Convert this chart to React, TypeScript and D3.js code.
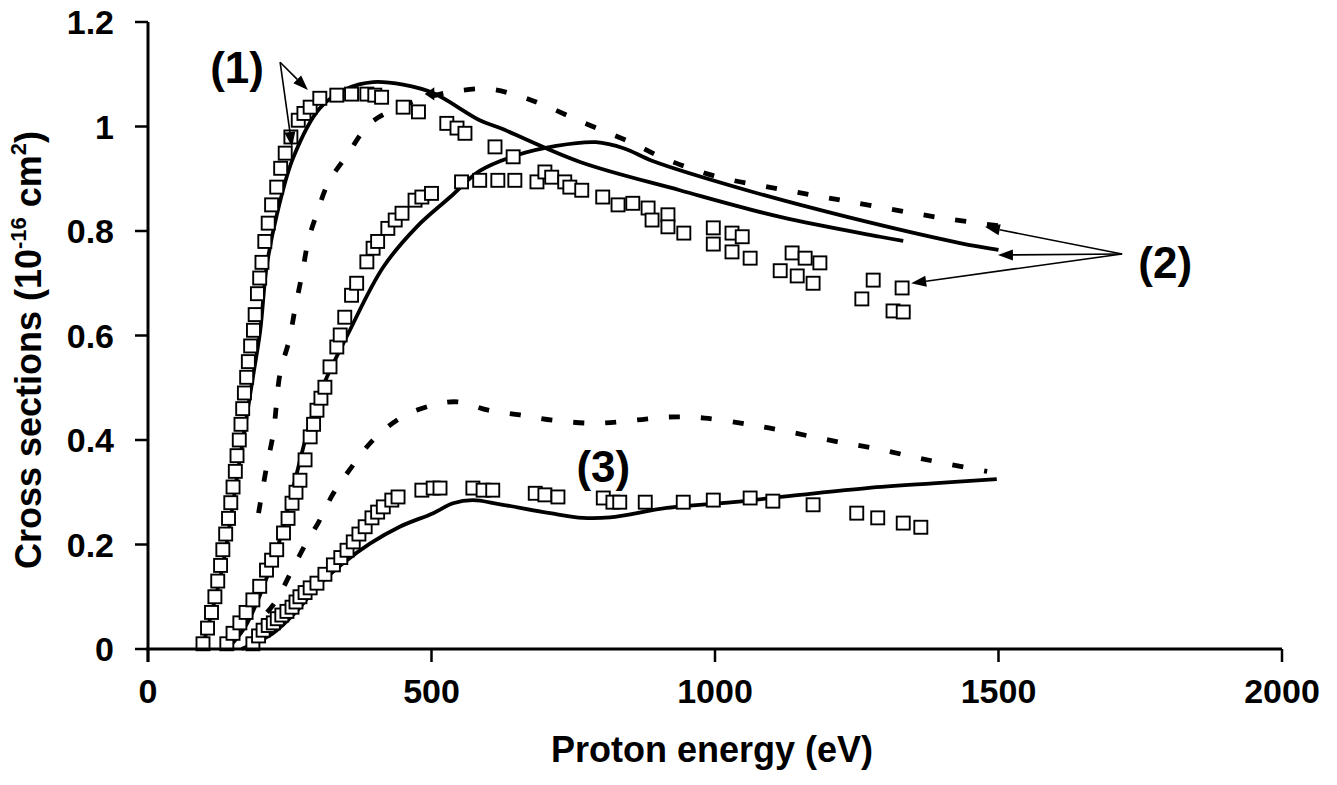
import React from "react";
import * as d3 from "d3";

const W = 1337;
const H = 785;
const FONT = "'Liberation Sans', Arial, Helvetica, sans-serif";

const xTicks = [0, 500, 1000, 1500, 2000];
const yTicks = [0, 0.2, 0.4, 0.6, 0.8, 1, 1.2];

// measured points, (energy eV, cross section)
const squares1 = [
  [97, 0.01], [105, 0.04], [112, 0.07], [118, 0.1], [123, 0.13], [128, 0.16], [132, 0.19],
  [137, 0.22], [142, 0.25], [146, 0.28], [150, 0.31], [154, 0.34], [157, 0.37], [161, 0.4],
  [164, 0.43], [167, 0.46], [170, 0.49], [174, 0.52], [177, 0.55], [181, 0.58], [186, 0.61],
  [189, 0.64], [193, 0.68], [197, 0.71], [201, 0.74], [206, 0.78], [212, 0.815], [218, 0.85],
  [227, 0.884], [234, 0.92], [242, 0.949], [252, 0.98], [265, 1.012], [275, 1.025], [286, 1.037],
  [303, 1.054], [333, 1.06], [359, 1.062], [386, 1.062], [400, 1.06], [412, 1.056], [450, 1.037],
  [477, 1.028], [527, 1.006], [545, 0.997], [559, 0.987], [612, 0.961], [644, 0.942],
];

const squares2 = [
  [139, 0.01], [150, 0.03], [162, 0.05], [173, 0.07], [185, 0.094], [197, 0.12], [209, 0.151],
  [218, 0.17], [227, 0.19], [239, 0.222], [247, 0.25], [254, 0.279], [261, 0.3], [268, 0.323],
  [277, 0.362], [286, 0.406], [292, 0.43], [298, 0.457], [305, 0.48], [312, 0.501], [321, 0.54],
  [333, 0.578], [339, 0.601], [347, 0.635], [359, 0.677], [368, 0.7], [386, 0.741], [397, 0.767],
  [405, 0.78], [423, 0.805], [436, 0.821], [448, 0.834], [471, 0.859], [483, 0.865], [500, 0.872],
  [553, 0.894], [585, 0.897], [617, 0.897], [647, 0.897], [686, 0.894], [700, 0.913], [712, 0.903],
  [735, 0.894], [744, 0.884], [765, 0.878], [802, 0.865], [829, 0.85], [855, 0.853], [882, 0.844],
  [889, 0.821], [917, 0.831], [917, 0.808], [945, 0.796], [997, 0.806], [997, 0.775], [1030, 0.796],
  [1030, 0.76], [1048, 0.789], [1062, 0.748], [1115, 0.724], [1136, 0.758], [1145, 0.714],
  [1159, 0.748], [1173, 0.7], [1185, 0.739], [1259, 0.67], [1279, 0.706], [1314, 0.647],
  [1330, 0.691], [1332, 0.645],
];

const squares3 = [
  [185, 0.01], [195, 0.025], [203, 0.036], [212, 0.045], [221, 0.05], [228, 0.058], [236, 0.065],
  [245, 0.072], [254, 0.08], [261, 0.09], [268, 0.1], [277, 0.108], [286, 0.117], [298, 0.126],
  [312, 0.143], [327, 0.161], [340, 0.175], [351, 0.189], [362, 0.205], [372, 0.22], [383, 0.234],
  [395, 0.251], [405, 0.262], [415, 0.272], [430, 0.285], [441, 0.291], [483, 0.304], [503, 0.308],
  [515, 0.308], [573, 0.308], [591, 0.304], [608, 0.304], [683, 0.298], [700, 0.295], [723, 0.291],
  [803, 0.289], [820, 0.281], [832, 0.281], [877, 0.281], [944, 0.281], [997, 0.285], [1062, 0.289],
  [1102, 0.283], [1173, 0.276], [1250, 0.26], [1287, 0.251], [1332, 0.241], [1363, 0.233],
];

// calculated curves
const solid1 = [
  [95, 0], [130, 0.15], [160, 0.35], [185, 0.52], [198, 0.61], [209, 0.73], [227, 0.83],
  [256, 0.94], [303, 1.035], [350, 1.072], [397, 1.085], [450, 1.08], [503, 1.064], [585, 1.012],
  [621, 0.997], [762, 0.932], [938, 0.878], [1115, 0.827], [1291, 0.789], [1332, 0.781],
];

const solid2 = [
  [140, 0], [170, 0.04], [200, 0.11], [230, 0.2], [254, 0.3], [298, 0.475], [356, 0.61],
  [415, 0.731], [474, 0.808], [533, 0.865], [585, 0.915], [650, 0.945], [720, 0.963], [790, 0.97],
  [840, 0.958], [890, 0.934], [1056, 0.878], [1233, 0.827], [1432, 0.777], [1500, 0.764],
];

const dashed2 = [
  [195, 0.26], [209, 0.348], [221, 0.413], [233, 0.528], [249, 0.591], [259, 0.649], [272, 0.719],
  [283, 0.783], [298, 0.834], [318, 0.892], [351, 0.945], [392, 1.006], [450, 1.04], [500, 1.058],
  [545, 1.068], [600, 1.072], [650, 1.06], [700, 1.04], [767, 1.008], [855, 0.968], [908, 0.94],
  [1000, 0.905], [1115, 0.88], [1233, 0.857], [1400, 0.825], [1500, 0.81],
];

const solid3 = [
  [165, 0], [220, 0.03], [260, 0.07], [298, 0.119], [344, 0.164], [392, 0.202], [444, 0.234],
  [503, 0.26], [538, 0.279], [573, 0.285], [621, 0.277], [709, 0.26], [767, 0.251], [815, 0.252],
  [915, 0.27], [1032, 0.281], [1150, 0.295], [1268, 0.308], [1384, 0.317], [1497, 0.325],
];

const dashed3 = [
  [210, 0.07], [227, 0.094], [254, 0.151], [280, 0.205], [300, 0.241], [327, 0.298], [359, 0.348],
  [397, 0.4], [448, 0.444], [503, 0.467], [546, 0.473], [600, 0.457], [656, 0.448], [714, 0.438],
  [788, 0.432], [859, 0.438], [917, 0.444], [982, 0.442], [1058, 0.43], [1115, 0.419],
  [1173, 0.406], [1229, 0.394], [1287, 0.383], [1344, 0.369], [1402, 0.356], [1480, 0.34],
];

// annotations: label position and arrows, in data units
const label1 = { text: "(1)", x: 157, y: 1.083 };
const label2 = { text: "(2)", x: 1794, y: 0.71 };
const label3 = { text: "(3)", x: 803, y: 0.32 };
const arrows1 = [
  { from: [233, 1.123], to: [282, 1.07] },
  { from: [233, 1.123], to: [254, 0.961] },
];
const arrows2 = [
  { from: [1718, 0.756], to: [1476, 0.808] },
  { from: [1718, 0.756], to: [1499, 0.754] },
  { from: [1718, 0.756], to: [1346, 0.7] },
];

const x = d3.scaleLinear().domain([0, 2000]).range([148, 1282]);
const y = d3.scaleLinear().domain([0, 1.2]).range([649, 22]);

const line = d3
  .line<number[]>()
  .x((d) => x(d[0]))
  .y((d) => y(d[1]))
  .curve(d3.curveCatmullRom.alpha(0.5));

function Squares({ data }: { data: number[][] }) {
  const s = 13;
  return (
    <g>
      {data.map((d, i) => (
        <rect key={i} x={x(d[0]) - s / 2} y={y(d[1]) - s / 2} width={s} height={s}
          fill="#fff" stroke="#000" strokeWidth={1.9} />
      ))}
    </g>
  );
}

function Arrow({ from, to }: { from: number[]; to: number[] }) {
  const x1 = x(from[0]), y1 = y(from[1]), x2 = x(to[0]), y2 = y(to[1]);
  const ang = Math.atan2(y2 - y1, x2 - x1);
  const len = 15, half = 5.5;
  const bx = x2 - len * Math.cos(ang), by = y2 - len * Math.sin(ang);
  const pts = [
    [x2, y2],
    [bx + half * Math.sin(ang), by - half * Math.cos(ang)],
    [bx - half * Math.sin(ang), by + half * Math.cos(ang)],
  ];
  return (
    <g>
      <line x1={x1} y1={y1} x2={bx} y2={by} stroke="#000" strokeWidth={1.6} />
      <polygon points={pts.map((p) => p.join(",")).join(" ")} fill="#000" />
    </g>
  );
}

export default function App() {
  const tickStyle = { fontFamily: FONT, fontWeight: 700, fontSize: 34 };
  return (
    <svg width={W} height={H} style={{ position: "absolute", left: 0, top: 0, background: "#fff" }}>
      {/* curves */}
      <g fill="none" stroke="#000" strokeWidth={3.8} strokeLinejoin="round">
        <path d={line(solid1) || ""} />
        <path d={line(solid2) || ""} />
        <path d={line(solid3) || ""} />
        <path d={line(dashed2) || ""} strokeDasharray="11 21" strokeWidth={4.8} />
        <path d={line(dashed3) || ""} strokeDasharray="11 21" strokeWidth={4.8} />
      </g>

      {/* small arrowhead on the top curve */}
      <polygon
        points={`${x(488)},${y(1.062)} ${x(505)},${y(1.075)} ${x(505)},${y(1.05)}`}
        fill="#000" />

      <Squares data={squares3} />
      <Squares data={squares2} />
      <Squares data={squares1} />

      {/* axes */}
      <g stroke="#000">
        <line x1={x(0)} x2={x(0)} y1={y(1.2)} y2={y(0) + 13} strokeWidth={3} />
        <line x1={x(0) - 2} x2={x(2000)} y1={y(0)} y2={y(0)} strokeWidth={3} />
        {yTicks.map((t) => (
          <line key={t} x1={x(0) - 13} x2={x(0)} y1={y(t)} y2={y(t)} strokeWidth={2.5} />
        ))}
        {xTicks.map((t) => (
          <line key={t} x1={x(t)} x2={x(t)} y1={y(0)} y2={y(0) + 13} strokeWidth={2.5} />
        ))}
      </g>
      {yTicks.map((t) => (
        <text key={t} x={114} y={y(t)} dy="0.36em" textAnchor="end" style={tickStyle}>
          {String(t)}
        </text>
      ))}
      {xTicks.map((t) => (
        <text key={t} x={x(t)} y={703} textAnchor="middle" style={tickStyle}>
          {String(t)}
        </text>
      ))}

      {/* titles */}
      <text x={712} y={762} textAnchor="middle"
        style={{ fontFamily: FONT, fontWeight: 700, fontSize: 36 }}>
        Proton energy (eV)
      </text>
      <text transform="translate(41,350) rotate(-90)" textAnchor="middle"
        style={{ fontFamily: FONT, fontWeight: 700, fontSize: 36 }}>
        Cross sections (10
        <tspan fontSize={22} dy={-15}>-16</tspan>
        <tspan dy={15}> cm</tspan>
        <tspan fontSize={22} dy={-15}>2</tspan>
        <tspan dy={15}>)</tspan>
      </text>

      {/* annotations */}
      {arrows1.map((a, i) => <Arrow key={"a1" + i} from={a.from} to={a.to} />)}
      {arrows2.map((a, i) => <Arrow key={"a2" + i} from={a.from} to={a.to} />)}
      {[label1, label2, label3].map((l) => (
        <text key={l.text} x={x(l.x)} y={y(l.y)} textAnchor="middle"
          style={{ fontFamily: FONT, fontWeight: 700, fontSize: 44 }}>
          {l.text}
        </text>
      ))}
    </svg>
  );
}
